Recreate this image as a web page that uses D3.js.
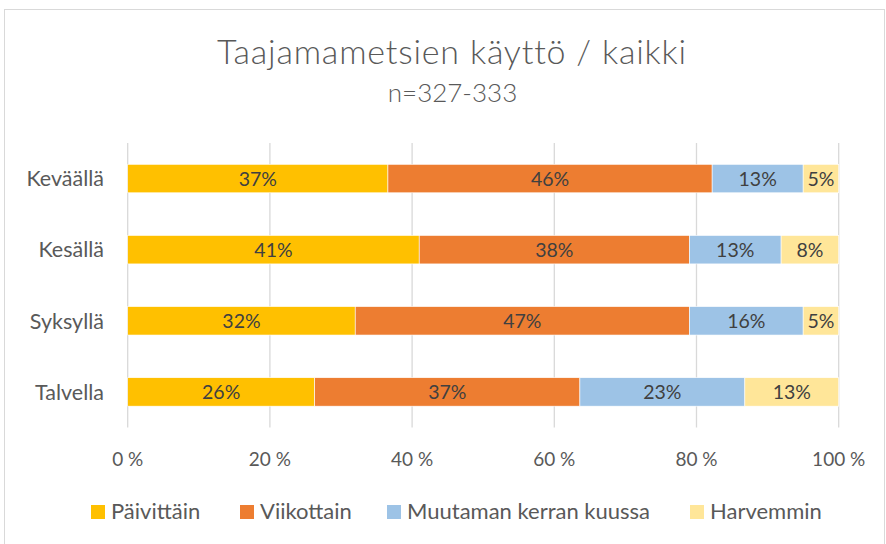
<!DOCTYPE html>
<html><head><meta charset="utf-8">
<script src="https://cdn.jsdelivr.net/npm/d3@7"></script>
<style>body{margin:0;background:#fff}svg{display:block;font-family:Lato,"Open Sans",sans-serif}</style>
</head><body><svg id="c" width="886" height="544"></svg>
<script>
const categories = ["Keväällä","Kesällä","Syksyllä","Talvella"];
const seriesNames = ["Päivittäin","Viikottain","Muutaman kerran kuussa","Harvemmin"];
const paivittain = [36.6, 41.0, 32.0, 26.3];
const viikottain = [45.6, 38.0, 47.0, 37.3];
const muutaman   = [12.8, 12.9, 16.0, 23.2];
const harvemmin  = [5.0, 8.1, 5.0, 13.2];
const labels = [["37%","46%","13%","5%"],["41%","38%","13%","8%"],["32%","47%","16%","5%"],["26%","37%","23%","13%"]];
const tickValues = [0,0.2,0.4,0.6,0.8,1.0];
const tickLabels = ["0 %","20 %","40 %","60 %","80 %","100 %"];
const colors = ["#FFC000","#ED7D31","#9DC3E6","#FFE699"];

const svg = d3.select("#c");
svg.append("rect").attr("x",4.5).attr("y",9.5).attr("width",880).attr("height",540)
  .attr("fill","#fff").attr("stroke","#d9d9d9");

const x = d3.scaleLinear().domain([0,1]).range([127.7,838.7]);
const y = d3.scaleBand().domain(categories).range([143,427.5]).paddingInner(0.6).paddingOuter(0.3);

svg.append("g").selectAll("line").data(tickValues).join("line")
  .attr("x1",d=>x(d)).attr("x2",d=>x(d)).attr("y1",143).attr("y2",427.5)
  .attr("stroke","#d9d9d9").attr("stroke-width",1.3);

const rows = categories.map((c,i)=>{
  const vals=[paivittain[i],viikottain[i],muutaman[i],harvemmin[i]];
  const tot=d3.sum(vals); let acc=0;
  return vals.map((v,j)=>{const s=acc/tot; acc+=v; return {c,j,x0:s,x1:acc/tot,label:labels[i][j]};});
}).flat();

svg.append("g").selectAll("rect").data(rows).join("rect")
  .attr("x",d=>x(d.x0)).attr("width",d=>x(d.x1)-x(d.x0))
  .attr("y",d=>y(d.c)).attr("height",y.bandwidth())
  .attr("fill",d=>colors[d.j]).attr("stroke","#fff").attr("stroke-width",0.6);

svg.append("g").selectAll("text").data(rows).join("text")
  .attr("x",d=>(x(d.x0)+x(d.x1))/2).attr("y",d=>y(d.c)+y.bandwidth()/2)
  .attr("dy","0.36em").attr("text-anchor","middle").attr("font-size",19.5)
  .attr("fill","#404040").text(d=>d.label);

svg.append("g").selectAll("text").data(categories).join("text")
  .attr("x",104).attr("y",d=>y(d)+y.bandwidth()/2).attr("dy","0.36em")
  .attr("text-anchor","end").attr("font-size",21.5).attr("fill","#595959").text(d=>d);

svg.append("g").selectAll("text").data(tickValues).join("text")
  .attr("x",d=>x(d)).attr("y",459.5).attr("dy","0.36em").attr("text-anchor","middle")
  .attr("font-size",19).attr("fill","#595959").text((d,i)=>tickLabels[i]);

svg.append("text").attr("x",452).attr("y",52).attr("dy","0.36em").attr("text-anchor","middle")
  .attr("font-size",34).attr("font-weight",300).attr("letter-spacing",0.8)
  .attr("fill","#595959").text("Taajamametsien käyttö / kaikki");
svg.append("text").attr("x",452.5).attr("y",92.5).attr("dy","0.36em").attr("text-anchor","middle")
  .attr("font-size",26).attr("font-weight",300).attr("fill","#595959").text("n=327-333");

const legX = [91,240,387,690];
const lg = svg.append("g").selectAll("g").data(seriesNames).join("g")
  .attr("transform",(d,i)=>`translate(${legX[i]},512)`);
lg.append("rect").attr("x",0).attr("y",-7).attr("width",14).attr("height",14).attr("fill",(d,i)=>colors[i]);
lg.append("text").attr("x",20).attr("y",-0.5).attr("dy","0.36em").attr("font-size",22)
  .attr("fill","#595959").text(d=>d);
</script></body></html>
